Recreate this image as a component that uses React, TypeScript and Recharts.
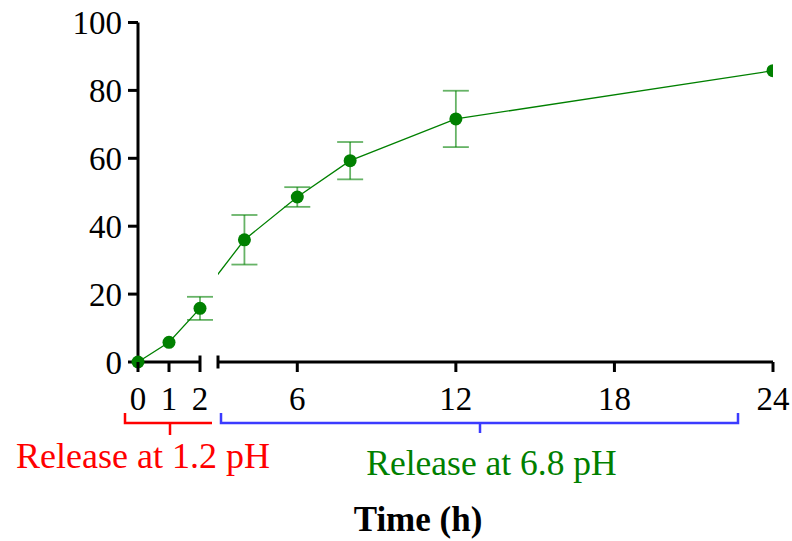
import React from "react";
import { LineChart, Line, XAxis, YAxis, ErrorBar } from "recharts";

// hours sampled, % drug released, SD
const hours = [0, 1, 2, 4, 6, 8, 12, 24];
const released = [0, 5.8, 15.8, 36, 48.6, 59.3, 71.6, 85.8];
const sd = [null, null, 3.4, 7.3, 2.9, 5.5, 8.3, null];

const acidTicks = [0, 1, 2];
const neutralTicks = [3, 6, 12, 18, 24];
const yTicks = [0, 20, 40, 60, 80, 100];

const W = 792;
const H = 541;
const FONT = "'Liberation Serif', 'Times New Roman', serif";
const GREEN = "#008000";
const TICK = 10;

const rows = hours.map((t, i) => ({ t, pct: released[i], err: sd[i] }));
// acid phase: 0-2 h; buffer phase drawn on its own axis from 3 h,
// the 2 h point is kept so the joining segment is clipped at the break
const acidRows = rows.filter((r) => r.t <= 2);
const neutralRows = rows
  .filter((r) => r.t >= 2)
  .map((r) => (r.t < 3 ? { ...r, err: null } : r));

const margin = (left: number, right: number) => ({
  top: 22.5,
  bottom: 149,
  left,
  right,
});

function TimeTick(props: any) {
  const { x, y, payload } = props;
  const v = payload.value;
  const axisY = y - TICK;
  if (v === 3) {
    return (
      <line x1={x} x2={x} y1={axisY - 6.5} y2={axisY + 6.5} stroke="#000" strokeWidth={3} />
    );
  }
  return (
    <g>
      <line
        x1={x}
        x2={x}
        y1={v === 2 ? axisY - 6.5 : axisY}
        y2={axisY + TICK}
        stroke="#000"
        strokeWidth={3}
      />
      <text x={x} y={axisY + 48} textAnchor="middle" fontSize={33} fill="#000" fontFamily={FONT}>
        {v}
      </text>
    </g>
  );
}

function PointDot(props: any) {
  const { cx, cy, payload, key } = props;
  if (payload.t < 3) return <g key={key} />;
  return <circle key={key} cx={cx} cy={cy} r={6.5} fill={GREEN} />;
}

const errorBarProps = {
  dataKey: "err",
  direction: "y" as const,
  width: 13,
  stroke: GREEN,
  strokeOpacity: 0.6,
  strokeWidth: 1.8,
};

export default function App() {
  return (
    <div style={{ position: "absolute", left: 0, top: 0, width: W, height: H, fontFamily: FONT, background: "#fff" }}>
      <div style={{ position: "absolute", left: 0, top: 0 }}>
        <LineChart width={W} height={H} data={acidRows} margin={margin(78, 592)}>
          <XAxis
            dataKey="t"
            type="number"
            domain={[0, 2]}
            ticks={acidTicks}
            interval={0}
            height={30}
            tickSize={TICK}
            tickMargin={0}
            tickLine={false}
            axisLine={{ stroke: "#000", strokeWidth: 3 }}
            tick={<TimeTick />}
          />
          <YAxis
            type="number"
            domain={[0, 100]}
            ticks={yTicks}
            interval={0}
            width={60}
            tickSize={TICK}
            tickMargin={6}
            axisLine={{ stroke: "#000", strokeWidth: 3 }}
            tickLine={{ stroke: "#000", strokeWidth: 3 }}
            tick={{ fontSize: 33, fill: "#000", fontFamily: FONT }}
          />
          <Line
            dataKey="pct"
            stroke={GREEN}
            strokeWidth={1.3}
            dot={{ r: 6.5, fill: GREEN, stroke: "none" }}
            isAnimationActive={false}
          >
            <ErrorBar {...errorBarProps} />
          </Line>
        </LineChart>
      </div>

      <div style={{ position: "absolute", left: 0, top: 0 }}>
        <LineChart width={W} height={H} data={neutralRows} margin={margin(218, 19)}>
          <XAxis
            dataKey="t"
            type="number"
            domain={[3, 24]}
            allowDataOverflow
            ticks={neutralTicks}
            interval={0}
            height={30}
            tickSize={TICK}
            tickMargin={0}
            tickLine={false}
            axisLine={{ stroke: "#000", strokeWidth: 3 }}
            tick={<TimeTick />}
          />
          <YAxis hide type="number" domain={[0, 100]} />
          <Line
            dataKey="pct"
            stroke={GREEN}
            strokeWidth={1.3}
            dot={<PointDot />}
            isAnimationActive={false}
          >
            <ErrorBar {...errorBarProps} />
          </Line>
        </LineChart>
      </div>

      <svg width={W} height={H} style={{ position: "absolute", left: 0, top: 0, pointerEvents: "none" }}>
        <path d="M125 413 V423 H212 M170 423 V435" fill="none" stroke="#ff0000" strokeWidth={2.5} />
        <path d="M221 413 V423 H738 V413 M480 423 V433" fill="none" stroke="#3b3bff" strokeWidth={2.5} />
        <text x={143} y={468} textAnchor="middle" fontSize={36} fill="#ff0000" fontFamily={FONT}>
          Release at 1.2 pH
        </text>
        <text x={491.5} y={475} textAnchor="middle" fontSize={35.5} fill={GREEN} fontFamily={FONT}>
          Release at 6.8 pH
        </text>
        <text x={418} y={531} textAnchor="middle" fontSize={35} fontWeight="bold" fill="#000" fontFamily={FONT}>
          Time (h)
        </text>
      </svg>
    </div>
  );
}
